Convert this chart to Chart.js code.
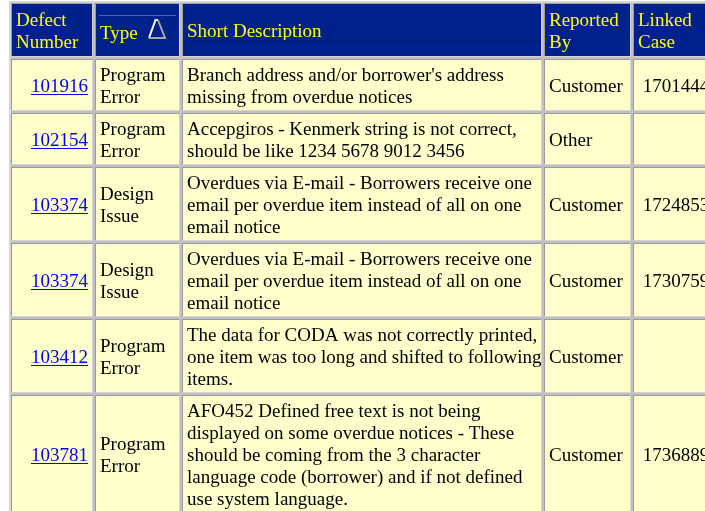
<!DOCTYPE html>
<html>
<head>
<meta charset="utf-8">
<script src="https://cdn.jsdelivr.net/npm/chart.js@4.4.1/dist/chart.umd.min.js"></script>
<style>
html, body { margin: 0; padding: 0; background: #fff; overflow: hidden; }
canvas { display: block; }
</style>
</head>
<body>
<canvas id="defectTable" width="705" height="511"></canvas>
<script>
// table contents, one list per column
const headers = ['Defect\nNumber', 'Type', 'Short Description', 'Reported\nBy', 'Linked\nCase'];
const defectNumbers = ['101916', '102154', '103374', '103374', '103412', '103781'];
const defectTypes = ['Program\nError', 'Program\nError', 'Design\nIssue', 'Design\nIssue', 'Program\nError', 'Program\nError'];
const descriptions = [
    "Branch address and/or borrower's address\nmissing from overdue notices",
    'Accepgiros - Kenmerk string is not correct,\nshould be like 1234 5678 9012 3456',
    'Overdues via E-mail - Borrowers receive one\nemail per overdue item instead of all on one\nemail notice',
    'Overdues via E-mail - Borrowers receive one\nemail per overdue item instead of all on one\nemail notice',
    'The data for CODA was not correctly printed,\none item was too long and shifted to following\nitems.',
    'AFO452 Defined free text is not being\ndisplayed on some overdue notices - These\nshould be coming from the 3 character\nlanguage code (borrower) and if not defined\nuse system language.'
];
const reportedBy = ['Customer', 'Other', 'Customer', 'Customer', 'Customer', 'Customer'];
const linkedCases = ['1701444', '', '1724853', '1730759', '', '1736889'];

// layout (pixels)
const colLefts = [12, 96, 183, 545, 634, 722];
const tableTop = 4;
const cellGap = 4;
const lineH = 22;
const FONT = '19px "Liberation Serif", "Times New Roman", serif';

const columns = [defectNumbers, defectTypes, descriptions, reportedBy, linkedCases];
const lineCount = s => (s ? s.split('\n').length : 1);

function rowBoxes() {
    const boxes = [];
    let y = tableTop;
    const headH = 2 * lineH + 8;
    boxes.push([y, y + headH]);
    y += headH + cellGap;
    for (let r = 0; r < defectNumbers.length; r++) {
        const n = Math.max(...columns.map(c => lineCount(c[r])));
        const h = n * lineH + 6;
        boxes.push([y, y + h]);
        y += h + cellGap;
    }
    return boxes;
}

const tablePlugin = {
    id: 'tablePlugin',
    afterDraw(chart) {
        const ctx = chart.ctx;
        const xs = chart.scales.x, ys = chart.scales.y;
        const X = v => xs.getPixelForValue(v);
        const Y = v => ys.getPixelForValue(v);
        const rows = rowBoxes();

        ctx.save();
        // table frame / spacing
        ctx.fillStyle = '#c0c0c0';
        ctx.fillRect(X(9), Y(1), X(705) - X(9), Y(511) - Y(1));
        ctx.fillStyle = '#d6d6d6';
        ctx.fillRect(X(9), Y(1), X(705) - X(9), 2);
        ctx.fillRect(X(9), Y(1), 2, Y(511) - Y(1));

        ctx.font = FONT;
        const drawCell = (ci, ri, fill) => {
            const x0 = X(colLefts[ci]), x1 = X(colLefts[ci + 1] - cellGap);
            const y0 = Y(rows[ri][0]), y1 = Y(rows[ri][1]);
            ctx.fillStyle = '#9c9c9c';
            ctx.fillRect(x0 - 1, y0 - 1, x1 - x0 + 1, y1 - y0 + 1);
            ctx.fillStyle = '#d4d4d4';
            ctx.fillRect(x0, y0, x1 - x0 + 1, y1 - y0 + 1);
            ctx.fillStyle = fill;
            ctx.fillRect(x0, y0, x1 - x0, y1 - y0);
            return [x0, y0, x1, y1];
        };
        const drawText = (txt, box, align, color, link, dy) => {
            if (!txt) return;
            const lines = txt.split('\n');
            const [x0, y0, x1, y1] = box;
            const top = y0 + (y1 - y0 - lines.length * lineH) / 2;
            ctx.fillStyle = color;
            ctx.textBaseline = 'alphabetic';
            lines.forEach((ln, i) => {
                const w = ctx.measureText(ln).width;
                let tx = x0 + 4;
                if (align === 'right') tx = x1 - 4 - w;
                if (align === 'center') tx = (x0 + x1) / 2 - w / 2;
                const by = top + i * lineH + 18 + (dy || 0);
                ctx.fillText(ln, tx, by);
                if (link) ctx.fillRect(Math.round(tx), Math.round(by) + 2, Math.round(w), 1);
            });
        };

        // header row
        headers.forEach((h, ci) => {
            const box = drawCell(ci, 0, '#00208c');
            drawText(h, box, 'left', '#ffff00', false, ci === 1 ? 2 : 0);
        });
        // rules and sort marker in the header
        ctx.lineWidth = 1;
        ctx.strokeStyle = '#4664b4';
        ctx.beginPath();
        ctx.moveTo(X(99), Y(15.5)); ctx.lineTo(X(176), Y(15.5));
        ctx.stroke();
        ctx.strokeStyle = '#0a1c78';
        ctx.beginPath();
        ctx.moveTo(X(185), Y(40.5)); ctx.lineTo(X(539), Y(40.5));
        ctx.stroke();
        ctx.lineWidth = 2;
        ctx.strokeStyle = '#ffffff';
        ctx.beginPath();
        ctx.moveTo(X(149), Y(38)); ctx.lineTo(X(155.5), Y(20)); ctx.lineTo(X(158), Y(20));
        ctx.stroke();
        ctx.strokeStyle = '#a8a8a8';
        ctx.beginPath();
        ctx.moveTo(X(158), Y(20)); ctx.lineTo(X(165), Y(38)); ctx.lineTo(X(149), Y(38));
        ctx.stroke();

        // body rows
        const aligns = ['right', 'left', 'left', 'left', 'center'];
        for (let r = 0; r < defectNumbers.length; r++) {
            columns.forEach((col, ci) => {
                const box = drawCell(ci, r + 1, '#ffffcc');
                drawText(col[r], box, aligns[ci], ci === 0 ? '#0000ee' : '#000000', ci === 0);
            });
        }
        ctx.restore();
    }
};

new Chart(document.getElementById('defectTable'), {
    type: 'scatter',
    data: { datasets: [] },
    options: {
        responsive: false,
        animation: false,
        devicePixelRatio: 1,
        layout: { padding: 0 },
        plugins: { legend: { display: false }, tooltip: { enabled: false } },
        scales: {
            x: { type: 'linear', min: 0, max: 705, display: false },
            y: { type: 'linear', min: 0, max: 511, reverse: true, display: false }
        }
    },
    plugins: [tablePlugin]
});
</script>
</body>
</html>
